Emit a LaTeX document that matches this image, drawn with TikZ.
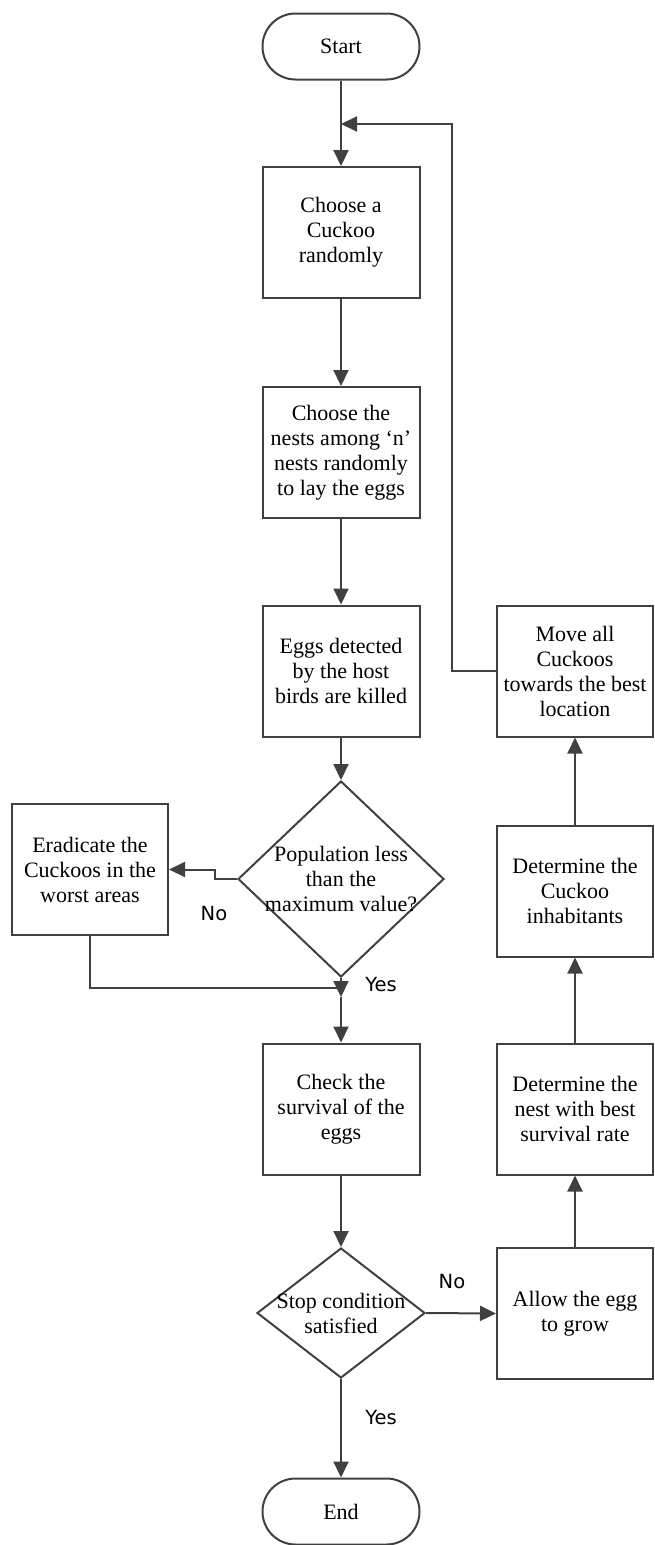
\documentclass[tikz,border=0pt]{standalone}
\usepackage{fontspec}
\setmainfont{Liberation Serif}
\newfontfamily\labelfont{DejaVu Sans}
\usetikzlibrary{shapes.geometric,arrows.meta}
\definecolor{ln}{HTML}{404040}
\begin{document}
\begin{tikzpicture}[x=1pt,y=-1pt,
 box/.style={draw=ln, line width=2pt, minimum width=157pt, minimum height=131pt, align=center, inner sep=0pt, font=\fontsize{22}{25}\selectfont},
 term/.style={draw=ln, line width=2pt, rounded corners=33pt, minimum width=157pt, minimum height=66pt, inner sep=0pt, font=\fontsize{22}{25}\selectfont},
 dia/.style={draw=ln, line width=2pt, diamond, inner sep=0pt},
 txt/.style={align=center, font=\fontsize{22}{25}\selectfont, inner sep=0pt},
 lab/.style={font=\labelfont\fontsize{19.5}{22}\selectfont, inner sep=0pt},
 arr/.style={draw=ln, line width=2pt, -{Triangle[length=16pt,width=15pt]}},
 con/.style={draw=ln, line width=2pt}]
\useasboundingbox (0,0) rectangle (654,1545);

\node[term] (start) at (341,46.5) {Start};
\node[box] (b1) at (341,232.5) {Choose a\\Cuckoo\\randomly};
\node[box] (b2) at (341,452.5) {Choose the\\nests among ‘n’\\nests randomly\\to lay the eggs};
\node[box] (b3) at (341,671) {Eggs detected\\by the host\\birds are killed};
\node[dia, minimum width=206pt, minimum height=196pt] (d1) at (341,879) {};
\node[txt] (d1t) at (d1.center) {Population less\\than the\\maximum value?};
\node[box, minimum width=156pt] (er) at (90,869.5) {Eradicate the\\Cuckoos in the\\worst areas};
\node[box] (b4) at (341,1109) {Check the\\survival of the\\eggs};
\node[dia, minimum width=168pt, minimum height=130pt] (d2) at (341,1313) {};
\node[txt] (d2t) at (d2.center) {Stop condition\\satisfied};
\node[term] (end) at (341,1511.5) {End};

\node[box, minimum width=156pt] (mv) at (575,671) {Move all\\Cuckoos\\towards the best\\location};
\node[box, minimum width=156pt] (in) at (575,891) {Determine the\\Cuckoo\\inhabitants};
\node[box, minimum width=156pt] (ne) at (575,1109) {Determine the\\nest with best\\survival rate};
\node[box, minimum width=156pt] (al) at (575,1313.5) {Allow the egg\\to grow};

\coordinate (j0) at (341,124);
\coordinate (j1) at (341,997);
\coordinate (m1) at (341,988);

\draw[arr] (start.south) -- (b1.north);
\draw[arr] (b1.south) -- (b2.north);
\draw[arr] (b2.south) -- (b3.north);
\draw[arr] (b3.south) -- (d1.north);
\draw[arr] (d1.west) -- ++(-22,0) |- (er.east);
\draw[arr] (d1.south) -- (j1);
\draw[con] (er.south) |- (m1);
\draw[arr] (j1) -- (b4.north);
\draw[arr] (b4.south) -- (d2.north);
\draw[arr] (d2.east) -- (al.west);
\draw[arr] (d2.south) -- (end.north);
\draw[arr] (al.north) -- (ne.south);
\draw[arr] (ne.north) -- (in.south);
\draw[arr] (in.north) -- (mv.south);
\draw[arr] (mv.west) -- ++(-44,0) |- (j0);

\node[lab] (no1) at (214,914) {No};
\node[lab] (yes1) at (381,985) {Yes};
\node[lab] (no2) at (452,1282) {No};
\node[lab] (yes2) at (381,1418) {Yes};
\end{tikzpicture}
\end{document}
